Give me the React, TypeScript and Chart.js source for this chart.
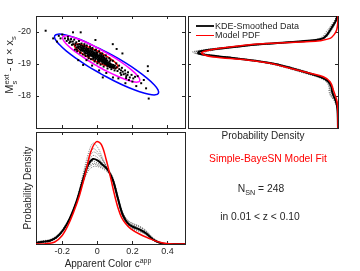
import React, { useEffect, useRef } from "react";
import { Chart, registerables } from "chart.js";

Chart.register(...registerables);

// ---------------- data ----------------
const colorTicks = [-0.2, 0, 0.2, 0.4];
const magTicks = [-20, -19, -18];
const colorRange = [-0.35, 0.5];
const magRange = [-20.5, -17];
const densityRange = [0, 1];

// [apparent colour c, M_s^ext - alpha x_s] per supernova (N = 248)
const supernovae: [number, number][] = [
  [-0.125, -19.58], [-0.118, -19.52], [-0.112, -19.6], [-0.108, -19.49], [-0.104, -19.55], [-0.1, -19.46],
  [-0.097, -19.53], [-0.094, -19.58], [-0.09, -19.44], [-0.088, -19.5], [-0.085, -19.41], [-0.082, -19.47],
  [-0.08, -19.54], [-0.077, -19.43], [-0.075, -19.38], [-0.072, -19.49], [-0.07, -19.42], [-0.068, -19.36],
  [-0.066, -19.46], [-0.063, -19.51], [-0.061, -19.39], [-0.059, -19.33], [-0.057, -19.44], [-0.055, -19.37],
  [-0.053, -19.3], [-0.051, -19.41], [-0.049, -19.47], [-0.047, -19.35], [-0.045, -19.29], [-0.043, -19.38],
  [-0.041, -19.32], [-0.039, -19.43], [-0.037, -19.26], [-0.035, -19.35], [-0.033, -19.3], [-0.031, -19.39],
  [-0.029, -19.24], [-0.027, -19.33], [-0.025, -19.28], [-0.023, -19.36], [-0.021, -19.22], [-0.019, -19.31],
  [-0.017, -19.26], [-0.015, -19.34], [-0.013, -19.19], [-0.011, -19.28], [-0.009, -19.23], [-0.007, -19.31],
  [-0.005, -19.17], [-0.003, -19.26], [-0.001, -19.21], [0.001, -19.29], [0.003, -19.14], [0.005, -19.23],
  [0.007, -19.18], [0.009, -19.26], [0.011, -19.12], [0.013, -19.2], [0.015, -19.15], [0.017, -19.24],
  [0.019, -19.1], [0.021, -19.18], [0.023, -19.13], [0.025, -19.21], [0.027, -19.07], [0.029, -19.15],
  [0.031, -19.1], [0.033, -19.19], [0.035, -19.05], [0.037, -19.12], [0.039, -19.08], [0.041, -19.16],
  [0.043, -19.03], [0.045, -19.1], [0.047, -19.06], [0.049, -19.13], [0.051, -19.0], [0.053, -19.08],
  [0.055, -19.04], [0.057, -19.11], [0.06, -18.98], [0.063, -19.05], [0.066, -18.96], [0.069, -19.02],
  [0.072, -18.94], [0.075, -19.0], [0.078, -18.92], [0.082, -18.98], [0.086, -18.93], [0.09, -18.97],
  [0.095, -18.91], [0.1, -18.95],
  [-0.11, -19.53], [-0.092, -19.48], [-0.078, -19.5], [-0.064, -19.42], [-0.052, -19.36], [-0.044, -19.4],
  [-0.034, -19.27], [-0.026, -19.4], [-0.018, -19.35], [-0.01, -19.25], [-0.004, -19.33], [0.002, -19.24],
  [0.008, -19.16], [0.014, -19.27], [0.02, -19.14], [0.026, -19.23], [0.032, -19.13], [0.038, -19.05],
  [0.044, -19.15], [0.05, -19.09], [0.058, -19.02], [0.064, -18.99], [0.07, -19.07], [0.076, -18.97],
  [-0.058, -19.48], [-0.04, -19.28], [-0.022, -19.2], [-0.006, -19.37], [0.012, -19.07], [0.03, -19.02],
  [0.046, -18.99], [-0.086, -19.56], [-0.07, -19.32], [-0.048, -19.24], [-0.03, -19.45], [-0.012, -19.13],
  [0.004, -19.09], [0.024, -19.28], [0.04, -19.2], [0.056, -18.95],
  [-0.095, -19.42], [-0.073, -19.56], [-0.054, -19.26], [-0.038, -19.48], [-0.024, -19.16], [-0.014, -19.42],
  [0.0, -19.35], [0.006, -19.12], [0.016, -19.32], [0.028, -19.09], [0.034, -19.25], [0.042, -19.01],
  [0.052, -19.18], [0.062, -18.97], [0.074, -19.12], [0.084, -18.9], [-0.118, -19.45], [-0.102, -19.62],
  [-0.185, -19.8], [-0.175, -19.72], [-0.168, -19.85], [-0.16, -19.66], [-0.15, -19.78], [-0.145, -19.6],
  [-0.14, -19.7], [-0.132, -19.76], [-0.128, -19.45], [-0.12, -19.68], [-0.115, -19.4], [-0.105, -19.72],
  [-0.098, -19.35], [-0.09, -19.64], [-0.083, -19.3], [-0.074, -19.62], [-0.067, -19.25], [-0.06, -19.58],
  [-0.05, -19.18], [-0.042, -19.55], [-0.036, -19.15], [-0.028, -19.5], [-0.016, -19.08], [-0.008, -19.45],
  [0.0, -19.02], [0.01, -19.4], [0.018, -18.98], [0.028, -19.33], [0.036, -18.92], [0.048, -19.27],
  [0.058, -18.86], [0.068, -19.18], [0.08, -18.84], [0.088, -19.1], [0.098, -18.8], [0.108, -19.02],
  [0.115, -18.78], [0.124, -18.95], [0.132, -18.72], [0.14, -18.88], [0.15, -18.68], [0.158, -18.8],
  [0.165, -18.62], [0.175, -18.74], [0.185, -18.58], [0.195, -18.66], [0.205, -18.55], [0.215, -18.6],
  [0.11, -18.9], [0.125, -18.84], [0.092, -18.88], [0.135, -18.8], [0.145, -18.76], [0.16, -18.7],
  [0.172, -18.66], [0.06, -18.93], [0.072, -18.9], [0.103, -18.86], [-0.138, -19.62], [-0.155, -19.7],
  [-0.165, -19.76], [-0.125, -19.64],
  [-0.295, -20.04], [-0.252, -19.8], [-0.139, -19.99], [-0.095, -19.99], [-0.167, -19.78], [-0.152, -19.7],
  [0.088, -19.62], [-0.011, -19.75], [0.143, -19.33], [0.11, -19.47], [0.288, -18.93], [0.288, -18.78],
  [0.293, -17.92], [0.278, -18.24], [0.222, -18.31], [0.164, -18.56], [0.136, -18.66], [0.089, -18.58],
  [0.031, -18.58], [-0.081, -18.97], [-0.109, -19.12], [-0.062, -19.12], [0.051, -18.72], [0.25, -18.4],
  [0.2, -18.45], [0.18, -18.5], [0.23, -18.62], [0.265, -18.5], [-0.22, -19.88], [-0.2, -19.92],
  [-0.23, -19.7], [-0.21, -19.8], [0.12, -18.55], [0.16, -18.4], [0.01, -18.8], [-0.03, -18.95],
];

// model contours (c, M)
const contourInner: [number, number][] = [
  [-0.02, -19.109], [-0.051, -19.206], [-0.08, -19.303], [-0.104, -19.397], [-0.12, -19.481], [-0.13, -19.55],
  [-0.131, -19.597], [-0.123, -19.622], [-0.108, -19.622], [-0.085, -19.594], [-0.057, -19.544], [-0.027, -19.474],
  [0.006, -19.391], [0.038, -19.294], [0.066, -19.197], [0.09, -19.103], [0.107, -19.019], [0.116, -18.95],
  [0.117, -18.903], [0.11, -18.878], [0.094, -18.878], [0.072, -18.906], [0.044, -18.956], [0.013, -19.026],
  [-0.02, -19.109],
];
const contourMiddle: [number, number][] = [
  [-0.001, -18.938], [-0.057, -19.125], [-0.108, -19.313], [-0.15, -19.49], [-0.18, -19.644], [-0.196, -19.766],
  [-0.198, -19.845], [-0.185, -19.878], [-0.157, -19.863], [-0.118, -19.797], [-0.069, -19.688], [-0.013, -19.544],
  [0.044, -19.373], [0.1, -19.188], [0.151, -19.0], [0.193, -18.823], [0.223, -18.669], [0.24, -18.547],
  [0.241, -18.466], [0.228, -18.434], [0.201, -18.45], [0.161, -18.516], [0.112, -18.625], [0.056, -18.768],
  [-0.001, -18.938],
];
const contourOuter: [number, number][] = [
  [0.023, -18.684], [-0.053, -18.928], [-0.121, -19.175], [-0.178, -19.409], [-0.218, -19.616], [-0.241, -19.778],
  [-0.243, -19.886], [-0.225, -19.933], [-0.188, -19.916], [-0.135, -19.834], [-0.069, -19.697], [0.001, -19.508],
  [0.083, -19.284], [0.159, -19.041], [0.227, -18.794], [0.283, -18.559], [0.324, -18.353], [0.346, -18.191],
  [0.348, -18.083], [0.331, -18.036], [0.294, -18.053], [0.241, -18.134], [0.174, -18.272], [0.1, -18.461],
  [0.023, -18.684],
];

// magnitude marginal: [M, density]
const magModelPdf: [number, number][] = [
  [-20.5, 0], [-20.31, 0.001], [-20.06, 0.009], [-19.91, 0.027], [-19.8, 0.053], [-19.73, 0.12],
  [-19.7, 0.187], [-19.647, 0.453], [-19.594, 0.609], [-19.49, 0.787], [-19.42, 0.867], [-19.353, 0.909],
  [-19.28, 0.89], [-19.22, 0.833], [-19.125, 0.609], [-19.022, 0.453], [-18.866, 0.32], [-18.71, 0.187],
  [-18.603, 0.098], [-18.447, 0.053], [-18.188, 0.031], [-17.875, 0.009], [-17.56, 0.001], [-17.0, 0],
];
const magGrid = [
  -20.5, -20.35, -20.15, -20.0, -19.9, -19.8, -19.74, -19.69, -19.63, -19.55, -19.46, -19.38, -19.33, -19.27,
  -19.2, -19.1, -19.0, -18.87, -18.72, -18.58, -18.45, -18.3, -18.15, -18.0, -17.85, -17.6, -17.0,
];
const magKde = [0.005, 0.015, 0.04, 0.06, 0.075, 0.1, 0.16, 0.3, 0.48, 0.66, 0.83, 0.93, 0.93, 0.86, 0.72, 0.55, 0.42, 0.31, 0.2, 0.11, 0.065, 0.045, 0.04, 0.03, 0.015, 0.004, 0];
const magBoot1 = [0.002, 0.01, 0.03, 0.05, 0.065, 0.09, 0.15, 0.29, 0.49, 0.69, 0.87, 0.97, 0.95, 0.86, 0.7, 0.53, 0.4, 0.29, 0.18, 0.1, 0.055, 0.035, 0.03, 0.02, 0.008, 0.002, 0];
const magBoot2 = [0.008, 0.025, 0.055, 0.08, 0.095, 0.125, 0.19, 0.33, 0.47, 0.63, 0.79, 0.88, 0.89, 0.84, 0.72, 0.57, 0.45, 0.34, 0.23, 0.13, 0.08, 0.06, 0.05, 0.04, 0.02, 0.006, 0];
const magBoot3 = [0.004, 0.012, 0.035, 0.055, 0.07, 0.095, 0.15, 0.28, 0.46, 0.65, 0.84, 0.95, 0.94, 0.85, 0.7, 0.54, 0.41, 0.3, 0.19, 0.11, 0.07, 0.055, 0.055, 0.045, 0.022, 0.005, 0];
const magBoot4 = [0.006, 0.02, 0.045, 0.065, 0.08, 0.11, 0.17, 0.31, 0.5, 0.67, 0.81, 0.9, 0.91, 0.87, 0.74, 0.56, 0.43, 0.32, 0.21, 0.12, 0.07, 0.05, 0.035, 0.025, 0.012, 0.003, 0];
const magBoot5 = [0.003, 0.012, 0.038, 0.058, 0.072, 0.1, 0.16, 0.3, 0.48, 0.66, 0.85, 0.96, 0.95, 0.86, 0.71, 0.55, 0.41, 0.3, 0.19, 0.12, 0.075, 0.06, 0.06, 0.05, 0.025, 0.006, 0];
const magBoot6 = [0.007, 0.022, 0.05, 0.07, 0.085, 0.115, 0.18, 0.32, 0.47, 0.64, 0.8, 0.9, 0.91, 0.85, 0.73, 0.56, 0.44, 0.33, 0.22, 0.125, 0.07, 0.045, 0.035, 0.022, 0.01, 0.003, 0];

// colour marginal: [c, density]
const colorModelPdf: [number, number][] = [
  [-0.35, 0], [-0.3, 0.002], [-0.243, 0.018], [-0.203, 0.071], [-0.169, 0.161], [-0.135, 0.286],
  [-0.101, 0.438], [-0.066, 0.643], [-0.038, 0.821], [-0.006, 0.913], [0.023, 0.888], [0.051, 0.75],
  [0.076, 0.589], [0.098, 0.438], [0.118, 0.321], [0.138, 0.237], [0.161, 0.183], [0.189, 0.138],
  [0.24, 0.089], [0.297, 0.049], [0.343, 0.021], [0.394, 0.004], [0.445, 0], [0.5, 0],
];
const colorGrid = [
  -0.35, -0.309, -0.271, -0.233, -0.195, -0.157, -0.119, -0.082, -0.053, -0.025, 0.003, 0.032,
  0.06, 0.089, 0.117, 0.145, 0.174, 0.202, 0.24, 0.278, 0.316, 0.354, 0.392, 0.5,
];
const colorKde = [0.012, 0.021, 0.029, 0.06, 0.125, 0.229, 0.378, 0.571, 0.705, 0.759, 0.744, 0.705, 0.661, 0.571, 0.408, 0.259, 0.185, 0.154, 0.131, 0.096, 0.042, 0.012, 0, 0];
const colorBoot1 = [0.006, 0.014, 0.022, 0.05, 0.115, 0.225, 0.39, 0.62, 0.8, 0.9, 0.86, 0.76, 0.66, 0.55, 0.39, 0.24, 0.16, 0.13, 0.11, 0.08, 0.035, 0.008, 0, 0];
const colorBoot2 = [0.02, 0.03, 0.04, 0.075, 0.14, 0.24, 0.37, 0.54, 0.65, 0.69, 0.69, 0.67, 0.64, 0.57, 0.42, 0.28, 0.21, 0.18, 0.155, 0.115, 0.055, 0.018, 0.002, 0];
const colorBoot3 = [0.01, 0.018, 0.026, 0.055, 0.12, 0.22, 0.37, 0.58, 0.74, 0.82, 0.8, 0.74, 0.67, 0.56, 0.4, 0.25, 0.18, 0.15, 0.125, 0.09, 0.04, 0.01, 0, 0];
const colorBoot4 = [0.016, 0.026, 0.035, 0.068, 0.135, 0.24, 0.385, 0.56, 0.68, 0.72, 0.71, 0.69, 0.66, 0.58, 0.42, 0.27, 0.2, 0.17, 0.15, 0.11, 0.05, 0.016, 0.001, 0];
const colorBoot5 = [0.008, 0.016, 0.024, 0.052, 0.118, 0.225, 0.38, 0.6, 0.76, 0.85, 0.82, 0.75, 0.66, 0.56, 0.4, 0.25, 0.17, 0.14, 0.115, 0.085, 0.035, 0.009, 0, 0];
const colorBoot6 = [0.018, 0.028, 0.036, 0.066, 0.13, 0.235, 0.375, 0.55, 0.67, 0.71, 0.7, 0.68, 0.65, 0.575, 0.415, 0.265, 0.195, 0.165, 0.14, 0.1, 0.048, 0.015, 0.001, 0];
const colorBoot7 = [0.012, 0.02, 0.03, 0.06, 0.128, 0.232, 0.38, 0.565, 0.69, 0.74, 0.72, 0.7, 0.67, 0.59, 0.43, 0.28, 0.21, 0.185, 0.16, 0.12, 0.058, 0.02, 0.003, 0];
const colorBoot8 = [0.01, 0.02, 0.028, 0.058, 0.122, 0.228, 0.385, 0.59, 0.73, 0.79, 0.77, 0.72, 0.66, 0.565, 0.4, 0.25, 0.175, 0.14, 0.12, 0.085, 0.038, 0.01, 0, 0];

const sampleSize = 248;

// ---------------- styling helpers ----------------
const AXIS = "#262626";
const FONT = "'Liberation Sans', Arial, Helvetica, sans-serif";
const W = 360;
const H = 271;

type AxisOpts = {
  min: number;
  max: number;
  reverse?: boolean;
  tickValues?: number[];
  labels?: boolean;
  size?: number;
};

function axis(position: string, o: AxisOpts) {
  const horizontal = position === "top" || position === "bottom";
  return {
    type: "linear",
    position,
    min: o.min,
    max: o.max,
    reverse: !!o.reverse,
    afterBuildTicks: (s: any) => {
      if (o.tickValues) s.ticks = o.tickValues.map((v) => ({ value: v }));
    },
    afterFit: (s: any) => {
      if (horizontal) s.height = o.size || 0;
      else s.width = o.size || 0;
    },
    grid: {
      display: true,
      drawOnChartArea: false,
      drawTicks: !!o.tickValues,
      tickLength: -3,
      color: AXIS,
      lineWidth: 1,
    },
    border: { display: true, color: AXIS, width: 1 },
    ticks: {
      display: !!o.labels,
      autoSkip: false,
      maxRotation: 0,
      padding: horizontal ? 5 : 8,
      color: AXIS,
      font: { family: FONT, size: 9 },
      callback: (v: any) => String(v),
    },
  };
}

function baseOptions(padding: any, scales: any) {
  return {
    animation: false,
    responsive: false,
    maintainAspectRatio: false,
    events: [],
    layout: { padding },
    plugins: { legend: { display: false }, tooltip: { enabled: false } },
    scales,
  };
}

const pairsToPts = (arr: [number, number][]) => arr.map(([x, y]) => ({ x, y }));
const vertCurve = (pairs: [number, number][]) => pairs.map(([m, d]) => ({ x: d, y: m }));
const vertGrid = (grid: number[], d: number[]) => grid.map((m, i) => ({ x: d[i], y: m }));
const horizGrid = (grid: number[], d: number[]) => grid.map((c, i) => ({ x: c, y: d[i] }));

const lineDs = (data: any[], color: string, width: number, extra: any = {}) => ({
  data,
  showLine: true,
  borderColor: color,
  borderWidth: width,
  pointRadius: 0,
  tension: 0.35,
  fill: false,
  ...extra,
});
const GRAY = "rgba(70,70,70,0.75)";
const grayDs = (data: any[]) => lineDs(data, GRAY, 1, { borderDash: [1, 1.3] });

export default function App() {
  const refA = useRef<HTMLCanvasElement>(null);
  const refB = useRef<HTMLCanvasElement>(null);
  const refC = useRef<HTMLCanvasElement>(null);

  useEffect(() => {
    const charts: Chart[] = [];

    // ---- joint scatter ----
    charts.push(
      new Chart(refA.current as HTMLCanvasElement, {
        type: "scatter",
        data: {
          datasets: [
            {
              data: pairsToPts(supernovae),
              pointStyle: "rect",
              pointRadius: 1.4,
              backgroundColor: "#000",
              borderWidth: 0,
              showLine: false,
            } as any,
            lineDs(pairsToPts(contourInner), "#ff0000", 1.5, { tension: 0.4 }),
            lineDs(pairsToPts(contourMiddle), "#ff00ff", 1.5, { tension: 0.4 }),
            lineDs(pairsToPts(contourOuter), "#0000ff", 1.5, { tension: 0.4 }),
          ],
        },
        options: baseOptions(
          { left: 0, top: 16, right: W - 185, bottom: H - 128 },
          {
            x: axis("bottom", { min: colorRange[0], max: colorRange[1], tickValues: colorTicks }),
            x2: axis("top", { min: colorRange[0], max: colorRange[1], tickValues: colorTicks }),
            y: axis("left", {
              min: magRange[0],
              max: magRange[1],
              reverse: true,
              tickValues: magTicks,
              labels: true,
              size: 36,
            }),
            y2: axis("right", { min: magRange[0], max: magRange[1], reverse: true, tickValues: magTicks }),
          }
        ) as any,
      })
    );

    // ---- magnitude marginal ----
    charts.push(
      new Chart(refB.current as HTMLCanvasElement, {
        type: "scatter",
        data: {
          datasets: [
            lineDs(vertCurve(magModelPdf), "#ff0000", 1.5),
            lineDs(vertGrid(magGrid, magKde), "#000", 2),
            grayDs(vertGrid(magGrid, magBoot1)),
            grayDs(vertGrid(magGrid, magBoot2)),
            grayDs(vertGrid(magGrid, magBoot3)),
            grayDs(vertGrid(magGrid, magBoot4)),
            grayDs(vertGrid(magGrid, magBoot5)),
            grayDs(vertGrid(magGrid, magBoot6)),
          ],
        },
        options: baseOptions(
          { left: 188, top: 16, right: W - 338, bottom: H - 128 },
          {
            x: axis("bottom", { min: densityRange[0], max: densityRange[1], reverse: true }),
            x2: axis("top", { min: densityRange[0], max: densityRange[1], reverse: true }),
            y: axis("left", { min: magRange[0], max: magRange[1], reverse: true, tickValues: magTicks }),
            y2: axis("right", { min: magRange[0], max: magRange[1], reverse: true, tickValues: magTicks }),
          }
        ) as any,
      })
    );

    // ---- colour marginal ----
    charts.push(
      new Chart(refC.current as HTMLCanvasElement, {
        type: "scatter",
        data: {
          datasets: [
            lineDs(pairsToPts(colorModelPdf), "#ff0000", 1.5),
            lineDs(horizGrid(colorGrid, colorKde), "#000", 2),
            grayDs(horizGrid(colorGrid, colorBoot1)),
            grayDs(horizGrid(colorGrid, colorBoot2)),
            grayDs(horizGrid(colorGrid, colorBoot3)),
            grayDs(horizGrid(colorGrid, colorBoot4)),
            grayDs(horizGrid(colorGrid, colorBoot5)),
            grayDs(horizGrid(colorGrid, colorBoot6)),
            grayDs(horizGrid(colorGrid, colorBoot7)),
            grayDs(horizGrid(colorGrid, colorBoot8)),
          ],
        },
        options: baseOptions(
          { left: 36, top: 132, right: W - 185, bottom: 0 },
          {
            x: axis("bottom", {
              min: colorRange[0],
              max: colorRange[1],
              tickValues: colorTicks,
              labels: true,
              size: H - 244,
            }),
            x2: axis("top", { min: colorRange[0], max: colorRange[1], tickValues: colorTicks }),
            y: axis("left", { min: densityRange[0], max: densityRange[1] }),
            y2: axis("right", { min: densityRange[0], max: densityRange[1] }),
          }
        ) as any,
      })
    );

    return () => charts.forEach((c) => c.destroy());
  }, []);

  const canvasStyle: React.CSSProperties = { position: "absolute", left: 0, top: 0, width: W, height: H };
  const label = (x: number, y: number, content: React.ReactNode, extra: React.CSSProperties = {}) => (
    <div
      style={{
        position: "absolute",
        left: x,
        top: y,
        transform: "translate(-50%,-50%)",
        whiteSpace: "nowrap",
        lineHeight: 1,
        ...extra,
      }}
    >
      {content}
    </div>
  );
  const sup = (t: string) => (
    <span style={{ fontSize: "70%", position: "relative", top: "-0.6em" }}>{t}</span>
  );
  const sub = (t: string) => (
    <span style={{ fontSize: "70%", position: "relative", top: "0.4em" }}>{t}</span>
  );

  return (
    <div
      style={{
        position: "fixed",
        left: 0,
        top: 0,
        width: W,
        height: H,
        background: "#fff",
        overflow: "hidden",
        fontFamily: FONT,
        color: AXIS,
      }}
    >
      <canvas ref={refA} width={W} height={H} style={canvasStyle} />
      <canvas ref={refB} width={W} height={H} style={canvasStyle} />
      <canvas ref={refC} width={W} height={H} style={canvasStyle} />

      {/* top-left y label */}
      {label(
        11,
        65,
        <span>
          M
          <span
            style={{
              display: "inline-flex",
              flexDirection: "column",
              fontSize: "70%",
              lineHeight: 1.05,
              verticalAlign: "4px",
            }}
          >
            <span>ext</span>
            <span>s</span>
          </span>
          {" - α × x"}
          {sub("s")}
        </span>,
        { fontSize: 11, transform: "translate(-50%,-50%) rotate(-90deg)" }
      )}

      {/* legend */}
      <div style={{ position: "absolute", left: 196, top: 25, width: 18, height: 2, background: "#1a1a1a" }} />
      {label(215, 26, "KDE-Smoothed Data", { fontSize: 9, transform: "translate(0,-50%)" })}
      <div style={{ position: "absolute", left: 196, top: 34.5, width: 18, height: 1.5, background: "#ff0000" }} />
      {label(215, 35, "Model PDF", { fontSize: 9, transform: "translate(0,-50%)" })}

      {/* axis labels */}
      {label(263, 136, "Probability Density", { fontSize: 10 })}
      {label(28, 188, "Probability Density", { fontSize: 10, transform: "translate(-50%,-50%) rotate(-90deg)" })}
      {label(108, 264, <span>Apparent Color c{sup("app")}</span>, { fontSize: 10 })}

      {/* annotations */}
      {label(268, 159, "Simple-BayeSN Model Fit", { fontSize: 10.3, color: "#ff0000" })}
      {label(261, 189, <span>N{sub("SN")} = {sampleSize}</span>, { fontSize: 10.3 })}
      {label(260, 217, "in 0.01 < z < 0.10", { fontSize: 10.3 })}
    </div>
  );
}
